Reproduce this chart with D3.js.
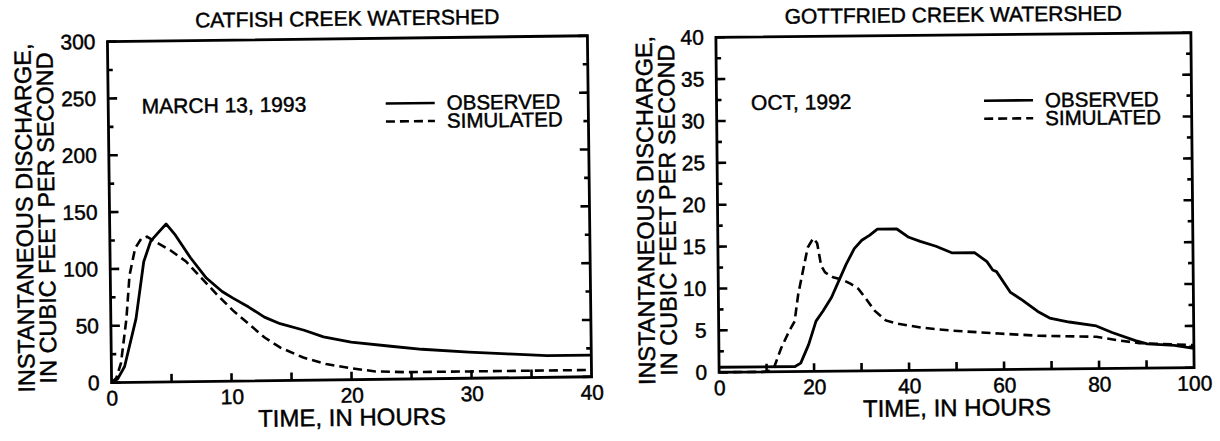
<!DOCTYPE html>
<html>
<head>
<meta charset="utf-8">
<script src="https://cdn.jsdelivr.net/npm/d3@7"></script>
<style>
  body { margin: 0; background: #fff; }
  text { font-family: "Liberation Sans", Arial, sans-serif; fill: #000; stroke: #000; stroke-width: 0.45px; }
</style>
</head>
<body>
<script>
// Catfish Creek, March 13, 1993
let catfishObsTime = [0, 0.5, 1.1, 2.1, 2.8, 3.4, 4.0, 4.7, 5.4, 6.7, 8.0, 9.3, 10.2, 11.5, 12.8, 14.1, 16.1, 17.7, 20, 23.3, 25.9, 29.8, 33, 36.3, 40];
let catfishObsQ = [0, 3, 14, 56, 106, 124, 131, 139, 130, 109, 91, 79, 73, 65, 56, 50, 44, 38, 33, 29, 26, 23, 21, 19, 19];
let catfishSimTime = [0, 0.4, 0.8, 1.3, 1.6, 2.1, 2.6, 3.1, 3.7, 5.0, 6.3, 7.6, 8.9, 10.2, 11.5, 12.8, 14.1, 16, 17.9, 20, 22, 24.6, 29.8, 40];
let catfishSimQ = [0, 4, 17, 56, 94, 118, 126, 128, 124, 116, 106, 91, 76, 62, 50, 38, 29, 20, 14, 10, 7, 6, 6, 6];

// Gottfried Creek, Oct 1992
let gottObsTime = [0, 16, 17.2, 18.9, 20.5, 22, 23.8, 25.4, 27, 28.7, 30.3, 32, 33.6, 37.7, 40.2, 42.6, 45.9, 49.2, 54, 56.6, 57.8, 58.6, 61.5, 63.9, 67.2, 69.7, 73.8, 79.5, 82.8, 87.7, 90.2, 95.9, 100];
let gottObsQ = [0.6, 0.6, 1.0, 3.2, 6.0, 7.2, 8.8, 10.8, 12.8, 14.6, 15.6, 16.2, 16.9, 16.9, 15.9, 15.4, 14.8, 14.0, 14.0, 12.9, 11.9, 11.7, 9.2, 8.3, 6.9, 6.1, 5.6, 5.1, 4.3, 3.3, 2.9, 2.7, 2.3];
let gottSimTime = [0, 10, 11.5, 13.1, 14.8, 16, 16.8, 18, 18.9, 20.1, 20.9, 21.7, 22.5, 24.2, 26.2, 27.9, 29.5, 31.1, 32.8, 35.2, 37.7, 42.6, 49.2, 59, 67.2, 79.5, 83.6, 88.5, 91.8, 100];
let gottSimQ = [0, 0, 0.4, 2.8, 4.8, 6.0, 9.2, 12.4, 14.8, 15.9, 15.3, 12.6, 11.8, 11.2, 10.9, 10.4, 9.8, 8.6, 7.2, 6.0, 5.6, 5.1, 4.7, 4.3, 4.0, 3.8, 3.4, 3.0, 2.9, 2.7];

// tick labels
let catfishXLabels = [0, 10, 20, 30, 40];
let catfishXTicks = [5, 10, 15, 20, 25, 30, 35];
let catfishYLabels = [0, 50, 100, 150, 200, 250, 300];
let catfishYMinor = [25, 75, 125, 175, 225, 275];
let gottXLabels = [0, 20, 40, 60, 80, 100];
let gottXTicks = [10, 20, 30, 40, 50, 60, 70, 80, 90];
let gottYLabels = [0, 5, 10, 15, 20, 25, 30, 35, 40];
let gottYMinor = [2.5, 7.5, 12.5, 17.5, 22.5, 27.5, 32.5, 37.5];

let yTitle = ["INSTANTANEOUS DISCHARGE,", "IN CUBIC FEET PER SECOND"];
let xTitle = "TIME, IN HOURS";
let legendNames = ["OBSERVED", "SIMULATED"];

let svg = d3.select("body")
    .append("svg")
    .attr("width", 1220).attr("height", 441);

function drawPanel(opt) {
    // the scanned page is a little tilted
    let g = svg.append("g")
        .attr("transform", "rotate(" + opt.tilt + "," + ((opt.left + opt.right) / 2) + "," + ((opt.top + opt.bottom) / 2) + ")");

    let x = d3.scaleLinear().domain([0, opt.xMax]).range([opt.left, opt.right]);
    let y = d3.scaleLinear().domain([0, opt.yMax]).range([opt.bottom, opt.top]);

    // frame
    g.append("rect")
        .attr("x", opt.left).attr("y", opt.top)
        .attr("width", opt.right - opt.left).attr("height", opt.bottom - opt.top)
        .attr("fill", "none").attr("stroke", "#000").attr("stroke-width", 2.8);

    // inward ticks: bottom, left and right sides
    let ticks = g.append("g").attr("stroke", "#000").attr("stroke-width", 2.6);
    ticks.selectAll(null).data(opt.xTicks).enter().append("line")
        .attr("x1", x).attr("x2", x)
        .attr("y1", opt.bottom).attr("y2", opt.bottom - 8);
    [[opt.yLabels, 9], [opt.yMinor, 5]].forEach(function (s) {
        ticks.selectAll(null).data(s[0]).enter().append("line")
            .attr("x1", opt.left).attr("x2", opt.left + s[1])
            .attr("y1", y).attr("y2", y);
        ticks.selectAll(null).data(s[0]).enter().append("line")
            .attr("x1", opt.right).attr("x2", opt.right - s[1])
            .attr("y1", y).attr("y2", y);
    });

    // tick labels
    let xl = g.append("g").attr("transform", "translate(0," + opt.bottom + ")")
        .call(d3.axisBottom(x).tickValues(opt.xLabels).tickSize(0).tickPadding(opt.xPad));
    let yl = g.append("g").attr("transform", "translate(" + opt.left + ",0)")
        .call(d3.axisLeft(y).tickValues(opt.yLabels).tickSize(0).tickPadding(12));
    [xl, yl].forEach(function (a) {
        a.select(".domain").remove();
        a.selectAll("text").style("font-size", "21px").attr("font-family", null);
    });

    let line = d3.line()
        .x(function (d) { return x(d[0]); })
        .y(function (d) { return y(d[1]); });

    g.append("path")
        .datum(d3.zip(opt.obsTime, opt.obsQ))
        .attr("d", line)
        .attr("fill", "none").attr("stroke", "#000").attr("stroke-width", 2.8)
        .attr("stroke-linejoin", "round");
    g.append("path")
        .datum(d3.zip(opt.simTime, opt.simQ))
        .attr("d", line)
        .attr("fill", "none").attr("stroke", "#000").attr("stroke-width", 2.6)
        .attr("stroke-dasharray", "9,5");

    // titles
    g.append("text")
        .attr("x", (opt.left + opt.right) / 2).attr("y", opt.top - 13)
        .attr("text-anchor", "middle").style("font-size", "21px")
        .text(opt.title);
    g.append("text")
        .attr("x", (opt.left + opt.right) / 2).attr("y", opt.bottom + opt.xTitleDy)
        .attr("text-anchor", "middle").style("font-size", "24px")
        .text(xTitle);
    yTitle.forEach(function (t, i) {
        g.append("text")
            .attr("transform", "translate(" + (opt.left - opt.yTitleDx + i * 22) + "," + ((opt.top + opt.bottom) / 2 + 5) + ") rotate(-90)")
            .attr("text-anchor", "middle").style("font-size", "23.5px")
            .text(t);
    });

    // note and legend
    g.append("text")
        .attr("x", opt.noteX).attr("y", opt.legendY + 7)
        .style("font-size", "21px")
        .text(opt.note);
    legendNames.forEach(function (name, i) {
        let ly = opt.legendY + i * 18;
        g.append("line")
            .attr("x1", opt.legendX).attr("x2", opt.legendX + 49)
            .attr("y1", ly).attr("y2", ly)
            .attr("stroke", "#000").attr("stroke-width", 2.6)
            .attr("stroke-dasharray", i === 0 ? null : "9,5");
        g.append("text")
            .attr("x", opt.legendX + 61).attr("y", ly + 7)
            .style("font-size", "20.5px")
            .text(name);
    });
}

drawPanel({
    left: 109.5, right: 589.5, top: 38.7, bottom: 379.7, tilt: -0.7,
    xMax: 40, yMax: 300,
    xLabels: catfishXLabels, xTicks: catfishXTicks,
    yLabels: catfishYLabels, yMinor: catfishYMinor,
    obsTime: catfishObsTime, obsQ: catfishObsQ,
    simTime: catfishSimTime, simQ: catfishSimQ,
    title: "CATFISH CREEK WATERSHED", note: "MARCH 13, 1993",
    noteX: 143, legendX: 387, legendY: 104,
    xPad: 8, xTitleDy: 46, yTitleDx: 77
});

drawPanel({
    left: 717.5, right: 1192.5, top: 35, bottom: 370, tilt: -0.55,
    xMax: 100, yMax: 40,
    xLabels: gottXLabels, xTicks: gottXTicks,
    yLabels: gottYLabels, yMinor: gottYMinor,
    obsTime: gottObsTime, obsQ: gottObsQ,
    simTime: gottSimTime, simQ: gottSimQ,
    title: "GOTTFRIED CREEK WATERSHED", note: "OCT, 1992",
    noteX: 752, legendX: 985, legendY: 101,
    xPad: 8, xTitleDy: 46, yTitleDx: 64
});
</script>
</body>
</html>
